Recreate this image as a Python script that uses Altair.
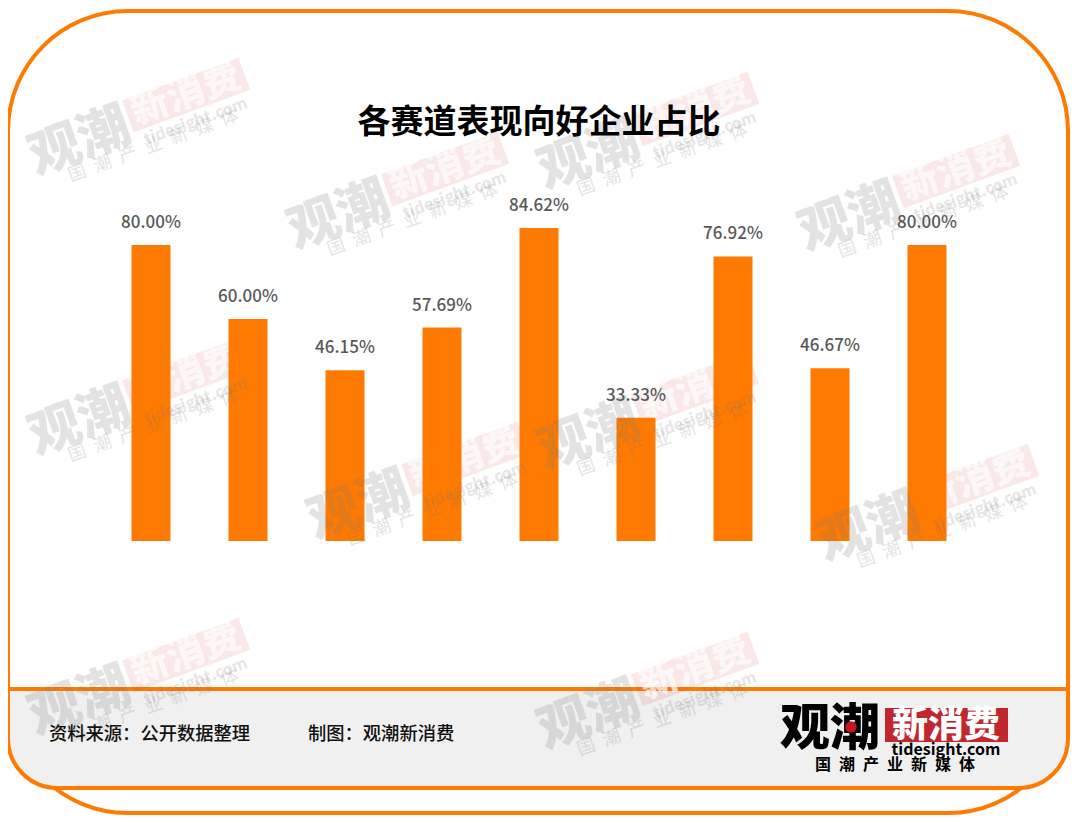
import math
import altair as alt
import pandas as pd

categories = ["白酒", "其他酒类", "乳制品", "调味品", "餐饮", "速冻、方便食品", "饮料", "休闲食品", "卤味"]
shares = [0.80, 0.60, 0.4615, 0.5769, 0.8462, 0.3333, 0.7692, 0.4667, 0.80]
title_text = "各赛道表现向好企业占比"
source_text = "资料来源：公开数据整理"
maker_text = "制图：观潮新消费"
logo_dark = "观潮"
logo_red = "新消费"
logo_site = "tidesight.com"
logo_tag = "国\u2002潮\u2002产\u2002业\u2002新\u2002媒\u2002体"

FONT = "Noto Sans CJK SC"
ORANGE = "#FF7A00"
W, H = 1064, 807
blank = alt.Chart(alt.Data(values=[{"k": 0}]))
df = pd.DataFrame({"cat": categories, "share": shares})


def px(v):
    return alt.value(v - 8)


def box(x0, y0, x1, y1, **kw):
    return blank.mark_rect(**kw).encode(x=px(x0), x2=px(x1), y=px(y0), y2=px(y1))


def label(t, x, y, size, color, weight="normal", align="left", angle=0, opacity=1):
    kw = {"angle": angle} if angle else {}
    return blank.mark_text(text=t, font=FONT, fontSize=size, color=color, fontWeight=weight,
                           align=align, baseline="middle", opacity=opacity, **kw).encode(x=px(x), y=px(y))


frame = box(8, 11, 1068, 813, fill="white", stroke=ORANGE, strokeWidth=4, cornerRadius=120)
panel = box(8, 689, 1068, 788, fill="#F0F0F0", stroke=ORANGE, strokeWidth=4,
            cornerRadiusBottomLeft=55, cornerRadiusBottomRight=55)

x_enc = alt.X("cat:N", sort=categories,
              scale=alt.Scale(domain=categories, range=[94.5, 967.5], paddingInner=0.5, paddingOuter=0.25),
              axis=alt.Axis(title=None, orient="bottom", offset=-274, domain=False, ticks=False, grid=False,
                            labelAngle=315, labelAlign="right", labelBaseline="middle", labelPadding=16,
                            labelFont=FONT, labelFontSize=16, labelColor="#7F7F7F", labelOverlap=False,
                            labelLimit=300))
y_enc = alt.Y("share:Q", scale=alt.Scale(domain=[0, 1], range=[533, 163]), axis=None)
bars = alt.Chart(df).mark_bar(size=39, color=ORANGE).encode(x=x_enc, y=y_enc)
values = alt.Chart(df).mark_text(font=FONT, fontSize=17, fontWeight=500, color="#595959", dy=-22,
                                 baseline="middle").encode(
    x=x_enc,
    y=y_enc,
    text=alt.Text("share:Q", format=".2%"),
)

title = label(title_text, 539, 123, 33, "#000000", weight=700, align="center")
source = label(source_text, 49, 735, 18.3, "#111111", weight=500)
maker = label(maker_text, 308, 735, 18.3, "#111111", weight=500)

logo = [
    label(logo_dark, 780, 730, 50, "#000000", weight=900),
    blank.mark_circle(size=130, color="#C8161D", opacity=1).encode(x=px(851), y=px(727)),
    box(885, 708, 1008, 742, fill="#C1272D"),
    label(logo_red, 946, 726, 36, "white", weight=900, align="center"),
    label(logo_site, 946, 750, 16, "#000000", weight=700, align="center"),
    label(logo_tag, 895, 765, 16, "#000000", weight=700, align="center"),
]


def pt(ax, ay, u, v):
    th = math.radians(20)
    return ax + u * math.cos(th) + v * math.sin(th), ay - u * math.sin(th) + v * math.cos(th)


def watermark_red(ax, ay):
    a = pt(ax, ay, 106, -8)
    b = pt(ax, ay, 230, -8)
    m = pt(ax, ay, 168, -8)
    return [
        blank.mark_rule(color="#D93A3A", strokeWidth=34, opacity=0.12).encode(
            x=px(a[0]), x2=px(b[0]), y=px(a[1]), y2=px(b[1])),
        label(logo_red, m[0], m[1], 38, "white", weight=900, align="center", angle=340, opacity=0.7),
    ]


def watermark_gray(ax, ay):
    x0, y0 = pt(ax, ay, 0, 0)
    s = pt(ax, ay, 168, 20)
    t = pt(ax, ay, 120, 29)
    return [
        label(logo_dark, x0, y0, 52, "#777777", weight=900, angle=340, opacity=0.2),
        label(logo_site, s[0], s[1], 16, "#777777", weight=700, align="center", angle=340, opacity=0.18),
        label(logo_tag, t[0], t[1], 18, "#777777", align="center", angle=340, opacity=0.2),
    ]


anchors = [(31, 160), (290, 234), (540, 174), (801, 236),
           (31, 440), (310, 524), (540, 454), (820, 546),
           (31, 720), (540, 734)]
marks = [frame, panel]
for a in anchors:
    marks += watermark_red(*a)
marks += [bars, values]
for a in anchors:
    marks += watermark_gray(*a)
marks += [title, source, maker] + logo

chart = alt.layer(*marks).properties(
    width=W, height=H, padding=0, autosize=alt.AutoSizeParams(type="none"), background="white"
).configure_view(stroke=None)

chart.save("out.html", embed_options={"renderer": "svg", "actions": False})
